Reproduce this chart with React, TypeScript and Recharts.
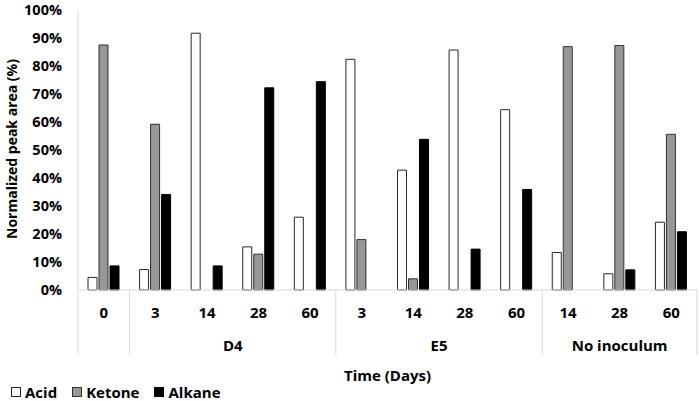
import { Bar, BarChart, Legend, XAxis, YAxis } from "recharts";

// Normalized peak area per sampling day, grouped by treatment.

const DAYS = ["0", "3", "14", "28", "60", "3", "14", "28", "60", "14", "28", "60"];
const GROUPS = ["", "D4", "D4", "D4", "D4", "E5", "E5", "E5", "E5", "No inoculum", "No inoculum", "No inoculum"];
const ACID = [4.5, 7.3, 91.7, 15.4, 26.0, 82.4, 42.8, 85.7, 64.4, 13.4, 5.8, 24.2];
const KETONE = [87.5, 59.2, null, 12.8, null, 18.0, 4.0, null, null, 86.9, 87.3, 55.6];
const ALKANE = [8.6, 34.1, 8.6, 72.2, 74.4, null, 53.8, 14.6, 35.9, null, 7.2, 20.8];
const Y_TICKS = [0, 10, 20, 30, 40, 50, 60, 70, 80, 90, 100];

const SERIES = [
  { key: "acid", name: "Acid", fill: "#ffffff", stroke: "#262626" },
  { key: "ketone", name: "Ketone", fill: "#979797", stroke: "#303030" },
  { key: "alkane", name: "Alkane", fill: "#000000", stroke: "#000000" }
];

const data = DAYS.map((day, i) => ({
  day,
  group: GROUPS[i],
  acid: ACID[i],
  ketone: KETONE[i],
  alkane: ALKANE[i]
}));

const FONT = "'Open Sans', Lato, sans-serif";
const LINE = "#d9d9d9";

function DayTick(props: any) {
  const { x, y, payload } = props;
  const i = payload.index;
  const half = payload.offset || 619 / 24;
  const first = i === 0 || GROUPS[i] !== GROUPS[i - 1];
  let groupLabel = null;
  if (first && GROUPS[i]) {
    let n = 0;
    while (GROUPS[i + n] === GROUPS[i]) n++;
    groupLabel = (
      <text
        x={x - half + n * half}
        y={y + 55}
        textAnchor="middle"
        dominantBaseline="central"
        fontSize={15}
        fontWeight={700}
        fill="#000"
      >
        {GROUPS[i]}
      </text>
    );
  }
  return (
    <g>
      {first && <line x1={x - half} x2={x - half} y1={y} y2={y + 65} stroke={LINE} />}
      {i === DAYS.length - 1 && <line x1={x + half} x2={x + half} y1={y} y2={y + 65} stroke={LINE} />}
      <text x={x} y={y + 22} textAnchor="middle" dominantBaseline="central" fontSize={15} fontWeight={700} fill="#000">
        {payload.value}
      </text>
      {groupLabel}
    </g>
  );
}

function LegendBox() {
  return (
    <div
      style={{
        display: "flex",
        alignItems: "center",
        height: 14,
        lineHeight: "14px",
        fontFamily: FONT,
        fontSize: 15,
        fontWeight: 700
      }}
    >
      {SERIES.map((s) => (
        <span key={s.key} style={{ display: "flex", alignItems: "center", marginRight: 15 }}>
          <span
            style={{
              width: 8,
              height: 8,
              background: s.fill,
              border: `1px solid ${s.stroke}`,
              marginRight: 4
            }}
          />
          {s.name}
        </span>
      ))}
    </div>
  );
}

export default function App() {
  return (
    <div style={{ position: "absolute", left: 0, top: 0, background: "#fff" }}>
      <BarChart
        width={699}
        height={401}
        data={data}
        margin={{ top: 10, right: 2, left: 0, bottom: 6 }}
        barSize={9}
        barGap={2}
        style={{ fontFamily: FONT }}
      >
        <XAxis
          dataKey="day"
          interval={0}
          tickLine={false}
          tickSize={0}
          tickMargin={0}
          axisLine={{ stroke: LINE }}
          height={91}
          tick={<DayTick />}
          label={{
            value: "Time (Days)",
            position: "insideBottom",
            offset: 0,
            fill: "#000",
            fontSize: 15,
            fontWeight: 700
          }}
        />
        <YAxis
          domain={[0, 100]}
          ticks={Y_TICKS}
          tickFormatter={(v) => `${v}%`}
          width={78}
          tickLine={false}
          tickSize={0}
          tickMargin={16}
          axisLine={{ stroke: LINE }}
          tick={{ fill: "#000", fontSize: 14.5, fontWeight: 700 }}
          label={{
            content: () => (
              <text
                x={11}
                y={149}
                transform="rotate(-90, 11, 149)"
                textAnchor="middle"
                dominantBaseline="central"
                fontSize={14}
                fontWeight={700}
                fill="#000"
              >
                Normalized peak area (%)
              </text>
            )
          }}
        />
        <Legend
          verticalAlign="bottom"
          align="left"
          content={<LegendBox />}
          wrapperStyle={{ position: "absolute", left: 11, top: 385, width: "auto" }}
        />
        {SERIES.map((s) => (
          <Bar
            key={s.key}
            dataKey={s.key}
            name={s.name}
            fill={s.fill}
            stroke={s.stroke}
            strokeWidth={1}
            isAnimationActive={false}
          />
        ))}
      </BarChart>
    </div>
  );
}
